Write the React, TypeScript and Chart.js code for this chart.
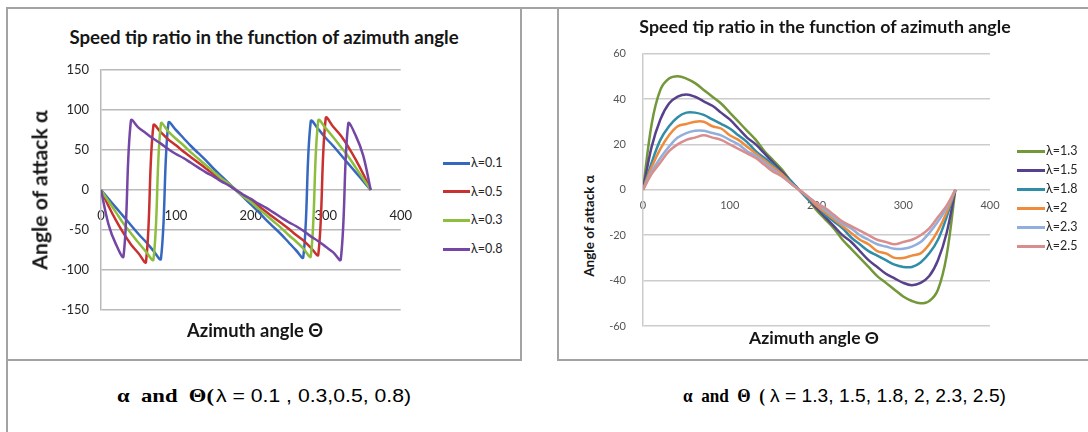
import React, { useEffect, useRef } from "react";
import { Chart, registerables } from "chart.js";

Chart.register(...registerables);

// ---------------- data ----------------
const thetaDeg = [0, 10, 20, 30, 40, 50, 60, 70, 80, 90, 100, 110, 120, 130, 140, 150, 160, 170, 180, 190, 200, 210, 220, 230, 240, 250, 260, 270, 280, 290, 300, 310, 320, 330, 340, 350, 360];

const leftSeriesLabels = ["λ=0.1", "λ=0.5", "λ=0.3", "λ=0.8"];
const alphaLam01 = [0, -11, -22, -33, -44, -55, -65, -76, -86, 84, 75, 65, 55, 46, 37, 27, 18, 9, 0, -9, -18, -27, -37, -46, -55, -65, -75, -84, 86, 76, 65, 55, 44, 33, 22, 11, 0];
const alphaLam05 = [0, -20, -38, -54, -68, -79, -90, 81, 72, 63, 56, 48, 41, 34, 27, 20, 13, 7, 0, -7, -13, -20, -27, -34, -41, -48, -56, -63, -72, -81, 90, 79, 68, 54, 38, 20, 0];
const alphaLam03 = [0, -14, -28, -42, -54, -66, -77, -87, 83, 73, 64, 56, 47, 39, 31, 23, 15, 8, 0, -8, -15, -23, -31, -39, -47, -56, -64, -73, -83, 87, 77, 66, 54, 42, 28, 14, 0];
const alphaLam08 = [0, -43, -68, -83, 87, 78, 71, 64, 58, 51, 45, 40, 34, 28, 22, 17, 11, 6, 0, -6, -11, -17, -22, -28, -34, -40, -45, -51, -58, -64, -71, -78, -87, 83, 68, 43, 0];
const leftColors = ["#3668C0", "#C8312F", "#8DBE3E", "#7446A5"];

const rightSeriesLabels = ["λ=1.3", "λ=1.5", "λ=1.8", "λ=2", "λ=2.3", "λ=2.5"];
const alphaLam13 = [0, 29, 44, 49, 50, 49, 47, 44, 41, 38, 34, 30, 26, 22, 17, 13, 9, 4, 0, -4, -9, -13, -17, -22, -26, -30, -34, -38, -41, -44, -47, -49, -50, -49, -44, -29, 0];
const alphaLam15 = [0, 19, 31, 38, 41, 42, 41, 39, 37, 34, 31, 27, 23, 20, 16, 12, 8, 4, 0, -4, -8, -12, -16, -20, -23, -27, -31, -34, -37, -39, -41, -42, -41, -38, -31, -19, 0];
const alphaLam18 = [0, 12, 22, 28, 32, 34, 34, 33, 31, 29, 27, 24, 21, 17, 14, 11, 7, 4, 0, -4, -7, -11, -14, -17, -21, -24, -27, -29, -31, -33, -34, -34, -32, -28, -22, -12, 0];
const alphaLam20 = [0, 10, 18, 24, 28, 29, 30, 30, 28, 27, 24, 22, 19, 16, 13, 10, 7, 3, 0, -3, -7, -10, -13, -16, -19, -22, -24, -27, -28, -30, -30, -29, -28, -24, -18, -10, 0];
const alphaLam23 = [0, 8, 14, 19, 23, 25, 26, 26, 25, 24, 22, 20, 17, 15, 12, 9, 6, 3, 0, -3, -6, -9, -12, -15, -17, -20, -22, -24, -25, -26, -26, -25, -23, -19, -14, -8, 0];
const alphaLam25 = [0, 7, 12, 17, 20, 22, 23, 24, 23, 22, 20, 18, 16, 14, 11, 8, 6, 3, 0, -3, -6, -8, -11, -14, -16, -18, -20, -22, -23, -24, -23, -22, -20, -17, -12, -7, 0];
const rightColors = ["#72983A", "#58418C", "#2F8DA8", "#EE8B3C", "#92AEDB", "#D98E8E"];

const leftXTicks = [0, 100, 200, 300, 400];
const leftYTicks = [-150, -100, -50, 0, 50, 100, 150];
const rightXTicks = [0, 100, 200, 300, 400];
const rightYTicks = [-60, -40, -20, 0, 20, 40, 60];

const chartTitle = "Speed tip ratio in the function of azimuth angle";
const yTitle = "Angle of attack α";
const xTitle = "Azimuth angle Θ";
const leftCaptionA = "α  and  Θ(";
const leftCaptionB = "λ = 0.1 , 0.3,0.5, 0.8)";
const rightCaptionA = "α  and  Θ  (";
const rightCaptionB = "λ = 1.3, 1.5, 1.8, 2, 2.3, 2.5)";

// ---------------- helpers ----------------
let measureCtx: CanvasRenderingContext2D | null = null;
function textWidth(text: string, font: string): number {
  if (!measureCtx) measureCtx = document.createElement("canvas").getContext("2d");
  measureCtx!.font = font;
  return measureCtx!.measureText(text).width;
}

const TITLE_FAMILY = 'Lato, "DejaVu Sans", sans-serif';

function FitText(props: { text: string; cx: number; cy: number; width: number; family?: string; weight?: string; color?: string; rotate?: number }) {
  const family = props.family || TITLE_FAMILY;
  const weight = props.weight || "bold";
  const w100 = textWidth(props.text, `${weight} 100px ${family}`) || 100;
  const size = (100 * props.width) / w100;
  return (
    <div
      style={{
        position: "absolute",
        left: props.cx,
        top: props.cy,
        transform: `translate(-50%,-50%) rotate(${props.rotate || 0}deg)`,
        fontFamily: family,
        fontWeight: weight as any,
        fontSize: size,
        lineHeight: 1,
        whiteSpace: "nowrap",
        color: props.color || "#161616",
      }}
    >
      {props.text}
    </div>
  );
}

function StretchText(props: { text: string; x: number; cy: number; width: number; family: string; size: number; weight?: string; color?: string }) {
  const weight = props.weight || "normal";
  const w = textWidth(props.text, `${weight} ${props.size}px ${props.family}`) || 1;
  return (
    <div
      style={{
        position: "absolute",
        left: props.x,
        top: props.cy,
        transform: `translateY(-50%) scaleX(${props.width / w})`,
        transformOrigin: "left center",
        fontFamily: props.family,
        fontSize: props.size,
        fontWeight: weight as any,
        lineHeight: 1,
        whiteSpace: "pre",
        color: props.color || "#000",
      }}
    >
      {props.text}
    </div>
  );
}

type ChartSpec = {
  series: number[][];
  labels: string[];
  colors: string[];
  xTicks: number[];
  yTicks: number[];
  left: number;
  top: number;
  w: number;
  h: number;
  pad: { left: number; top: number; right: number; bottom: number };
  yAxisWidth: number;
  tickSize: number;
  tickColor: string;
  xTickPad: number;
  yTickPad: number;
  gridColor: string;
  lineWidth: number;
};

function LineChart({ spec }: { spec: ChartSpec }) {
  const ref = useRef<HTMLCanvasElement>(null);
  useEffect(() => {
    const canvas = ref.current;
    if (!canvas) return;
    const n = spec.series.length;
    const chart = new Chart(canvas, {
      type: "line",
      data: {
        datasets: spec.series.map((vals, i) => ({
          label: spec.labels[i],
          data: thetaDeg.map((t, k) => ({ x: t, y: vals[k] })),
          borderColor: spec.colors[i],
          backgroundColor: spec.colors[i],
          borderWidth: spec.lineWidth,
          pointRadius: 0,
          pointHoverRadius: 0,
          tension: 0.35,
          fill: false,
          order: n - 1 - i,
        })),
      },
      options: {
        responsive: false,
        maintainAspectRatio: false,
        animation: false,
        devicePixelRatio: 1,
        events: [],
        layout: { padding: spec.pad },
        plugins: {
          legend: { display: false },
          title: { display: false },
          tooltip: { enabled: false },
        },
        scales: {
          x: {
            type: "linear",
            min: spec.xTicks[0],
            max: spec.xTicks[spec.xTicks.length - 1],
            position: { y: 0 } as any,
            afterBuildTicks: (s: any) => {
              s.ticks = spec.xTicks.map((v) => ({ value: v }));
            },
            afterFit: (s: any) => {
              s.height = 0;
            },
            grid: { display: false, drawTicks: false },
            border: { display: false },
            ticks: {
              padding: spec.xTickPad,
              autoSkip: false,
              maxRotation: 0,
              font: { family: "Lato", size: spec.tickSize },
              color: spec.tickColor,
            },
          },
          y: {
            type: "linear",
            position: "left",
            min: spec.yTicks[0],
            max: spec.yTicks[spec.yTicks.length - 1],
            afterBuildTicks: (s: any) => {
              s.ticks = spec.yTicks.map((v) => ({ value: v }));
            },
            afterFit: (s: any) => {
              s.width = spec.yAxisWidth;
            },
            grid: { color: spec.gridColor, lineWidth: 1.5, drawTicks: false },
            border: { display: true, color: spec.gridColor, width: 1.5 },
            ticks: {
              padding: spec.yTickPad,
              font: { family: "Lato", size: spec.tickSize },
              color: spec.tickColor,
            },
          },
        },
      } as any,
    });
    return () => chart.destroy();
  }, []);
  return (
    <canvas
      ref={ref}
      width={spec.w}
      height={spec.h}
      style={{ position: "absolute", left: spec.left, top: spec.top, width: spec.w, height: spec.h }}
    />
  );
}

function Legend(props: { labels: string[]; colors: string[]; x: number; y0: number; step: number; lineW: number; size: number }) {
  return (
    <>
      {props.labels.map((lab, i) => {
        const cy = props.y0 + i * props.step;
        return (
          <React.Fragment key={lab}>
            <div style={{ position: "absolute", left: props.x, top: cy - 1.5, width: props.lineW, height: 3, background: props.colors[i] }} />
            <div
              style={{
                position: "absolute",
                left: props.x + props.lineW + 1,
                top: cy,
                transform: "translateY(-50%)",
                fontFamily: 'Lato, "DejaVu Sans", sans-serif',
                fontSize: props.size,
                lineHeight: 1,
                whiteSpace: "nowrap",
                color: "#262626",
              }}
            >
              {lab}
            </div>
          </React.Fragment>
        );
      })}
    </>
  );
}

const FRAME = "#a3a3a3";

export default function App() {
  const leftSpec: ChartSpec = {
    series: [alphaLam01, alphaLam05, alphaLam03, alphaLam08],
    labels: leftSeriesLabels,
    colors: leftColors,
    xTicks: leftXTicks,
    yTicks: leftYTicks,
    left: 50,
    top: 50,
    w: 380,
    h: 280,
    pad: { left: 0, top: 20, right: 17, bottom: 20 },
    yAxisWidth: 51,
    tickSize: 13,
    tickColor: "#262626",
    xTickPad: 18,
    yTickPad: 12,
    gridColor: "#b9b9b9",
    lineWidth: 2.5,
  };
  const rightSpec: ChartSpec = {
    series: [alphaLam13, alphaLam15, alphaLam18, alphaLam20, alphaLam23, alphaLam25],
    labels: rightSeriesLabels,
    colors: rightColors,
    xTicks: rightXTicks,
    yTicks: rightYTicks,
    left: 600,
    top: 30,
    w: 420,
    h: 320,
    pad: { left: 0, top: 18, right: 30, bottom: 24 },
    yAxisWidth: 43,
    tickSize: 11,
    tickColor: "#555555",
    xTickPad: 9,
    yTickPad: 17,
    gridColor: "#cccccc",
    lineWidth: 2.5,
  };

  const line = (l: number, t: number, w: number, h: number) => (
    <div style={{ position: "absolute", left: l, top: t, width: w, height: h, background: FRAME }} />
  );

  return (
    <div style={{ position: "absolute", left: 0, top: 0, width: 1088, height: 432, background: "#ffffff", overflow: "hidden" }}>
      {line(7, 7, 1081, 2)}
      {line(6, 7, 2, 425)}
      {line(520, 7, 2, 354)}
      {line(6, 359, 516, 2)}
      {line(557, 7, 2, 354)}
      {line(557, 359, 531, 2)}

      <LineChart spec={leftSpec} />
      <LineChart spec={rightSpec} />

      <FitText text={chartTitle} cx={264} cy={37} width={390} />
      <FitText text={yTitle} cx={40} cy={190} width={160} rotate={-90} />
      <FitText text={xTitle} cx={255} cy={330} width={136} />
      <Legend labels={leftSeriesLabels} colors={leftColors} x={443} y0={163} step={28.7} lineW={27} size={12.5} />

      <FitText text={chartTitle} cx={825} cy={27} width={372} />
      <FitText text={yTitle} cx={590} cy={226} width={102} rotate={-90} />
      <FitText text={xTitle} cx={814} cy={338} width={130} />
      <Legend labels={rightSeriesLabels} colors={rightColors} x={1017} y0={151} step={19} lineW={28} size={12.5} />

      <StretchText text={leftCaptionA} x={117} cy={395} width={97} family='"Liberation Serif", serif' size={19} weight="bold" />
      <StretchText text={leftCaptionB} x={216} cy={395} width={195} family='"Liberation Sans", sans-serif' size={19} />
      <StretchText text={rightCaptionA} x={683} cy={395} width={82} family='"Liberation Serif", serif' size={19} weight="bold" />
      <StretchText text={rightCaptionB} x={770} cy={395} width={236} family='"Liberation Sans", sans-serif' size={19} />
    </div>
  );
}
